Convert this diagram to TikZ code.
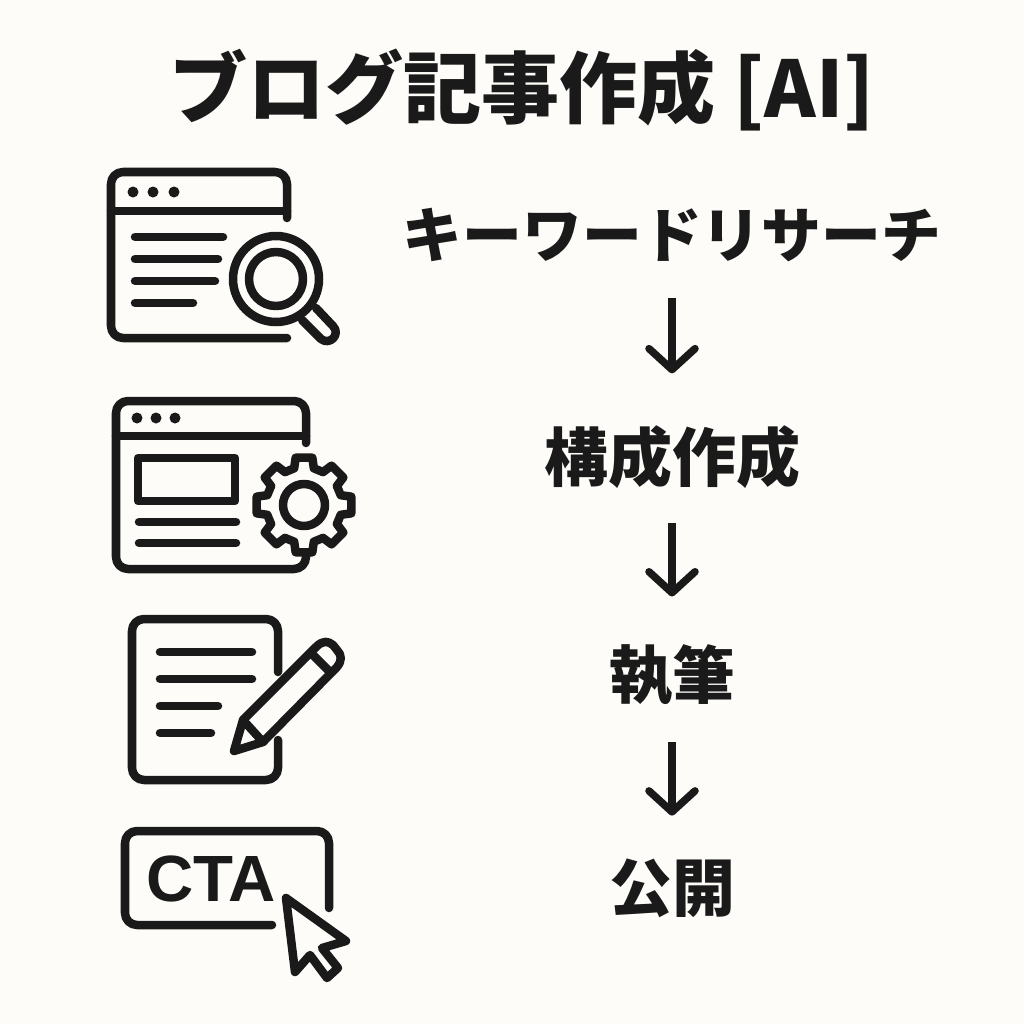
\documentclass[tikz,border=0pt]{standalone}
\usepackage{fontspec}
\setmainfont{Noto Sans CJK JP}
\newfontfamily\latinfont{Liberation Sans}
\usetikzlibrary{positioning,arrows.meta}
\definecolor{paper}{HTML}{FDFCF8}
\definecolor{ink}{HTML}{1A1A1A}
\tikzset{
    icon_line/.style={color=ink,line width=0.085cm,line cap=round,line join=round},
    window_box/.style={icon_line,rounded corners=0.12cm},
    step_text/.style={color=ink,font=\fontsize{#1}{#1}\selectfont\bfseries,inner sep=0,minimum height=1.24cm,on grid},
    step_arrow/.style={color=ink,line width=0.075cm,-{Straight Barb[length=0.21cm,width=0.46cm,round]}},
}
\begin{document}
\begin{tikzpicture}[x=0.01cm,y=-0.01cm]
        \fill[paper] (0,0) rectangle (1024,1024);
        \node[color=ink,font=\fontsize{22.2pt}{22.2pt}\selectfont\bfseries,inner sep=0] (title) at (522,90) {ブログ記事作成 [AI]};
        \coordinate (search_icon) at (111,172);
        \coordinate (gear_center) at (304,505);
        \node[step_text=17pt] (keyword) at (672,235) {キーワードリサーチ};
        \node[step_text=18.2pt, below = 2.22cm of keyword] (outline) {構成作成};
        \node[step_text=17.9pt, below = 2.18cm of outline] (writing) {執筆};
        \node[step_text=17.9pt, below = 2.13cm of writing] (publish) {公開};
        \draw[step_arrow,shorten >=0.21cm] (keyword) -- (outline);
        \draw[step_arrow,shorten <=0.03cm,shorten >=0.16cm] (outline) -- (writing);
        \draw[step_arrow,shorten <=0.04cm,shorten >=0.1cm] (writing) -- (publish);
        % search window
        \draw[window_box] (287,218) -- (287,172) -- (111,172) -- (111,338) -- (287,338);
        \draw[icon_line] (111,211) -- (287,211);
        \foreach \x in {133,153,174} \fill[ink] (\x,192) circle (5.5);
        \draw[icon_line] (135,237) -- (223,237);
        \draw[icon_line] (135,259) -- (218,259);
        \draw[icon_line] (135,281) -- (215,281);
        \draw[icon_line] (135,303) -- (193,303);
        \draw[icon_line] (276,279) circle (43);
        \draw[icon_line] (276,279) circle (27);
        \draw[icon_line] (316,308) -- (333,326) .. controls (341,334) and (330,346) .. (321,339) -- (302,320);
        % settings window
        \draw[window_box] (306,443) -- (306,401) -- (116,401) -- (116,569) -- (306,569) -- (306,555);
        \draw[icon_line] (116,436) -- (306,436);
        \foreach \x in {137,156,175} \fill[ink] (\x,418) circle (5.5);
        \draw[icon_line] (138,458) rectangle (235,501);
        \draw[icon_line] (139,522) -- (236,522);
        \draw[icon_line] (139,543) -- (236,543);
        \fill[paper] (gear_center) circle (44);
        \draw[icon_line] (gear_center) circle (21);
        \begin{scope}[shift={(gear_center)}]
            \draw[icon_line] (-15:38) \foreach \a in {0,45,...,315} {
                -- (\a-15:38) -- (\a-10:48) -- (\a+10:48) -- (\a+15:38)
            } -- cycle;
        \end{scope}
        % document and pencil
        \draw[window_box] (278,672) -- (278,619) -- (132,619) -- (132,780) -- (278,780) -- (278,740);
        \draw[icon_line] (160,652) -- (252,652);
        \draw[icon_line] (160,679) -- (252,679);
        \draw[icon_line] (160,706) -- (218,706);
        \draw[icon_line] (160,733) -- (211,733);
        \draw[icon_line] (243,720) -- (316,647) .. controls (323,640) and (328,641) .. (333,645) -- (337,650) .. controls (342,655) and (342,661) .. (337,667) -- (263,742) -- (234,751) -- cycle;
        \draw[icon_line] (243,720) -- (263,742);
        \draw[icon_line] (313,655) -- (330,672);
        % button and cursor
        \draw[window_box] (329,908) -- (329,831) -- (125,831) -- (125,925) -- (272,925);
        \node[color=ink,font=\latinfont\fontsize{18.6pt}{18.6pt}\selectfont\bfseries,inner sep=0] (cta) at (211,879) {CTA};
        \draw[icon_line] (286,898) -- (346,941) -- (322,948) -- (338,968) -- (327,978) -- (310,955) -- (295,972) -- cycle;
    \end{tikzpicture}
\end{document}
